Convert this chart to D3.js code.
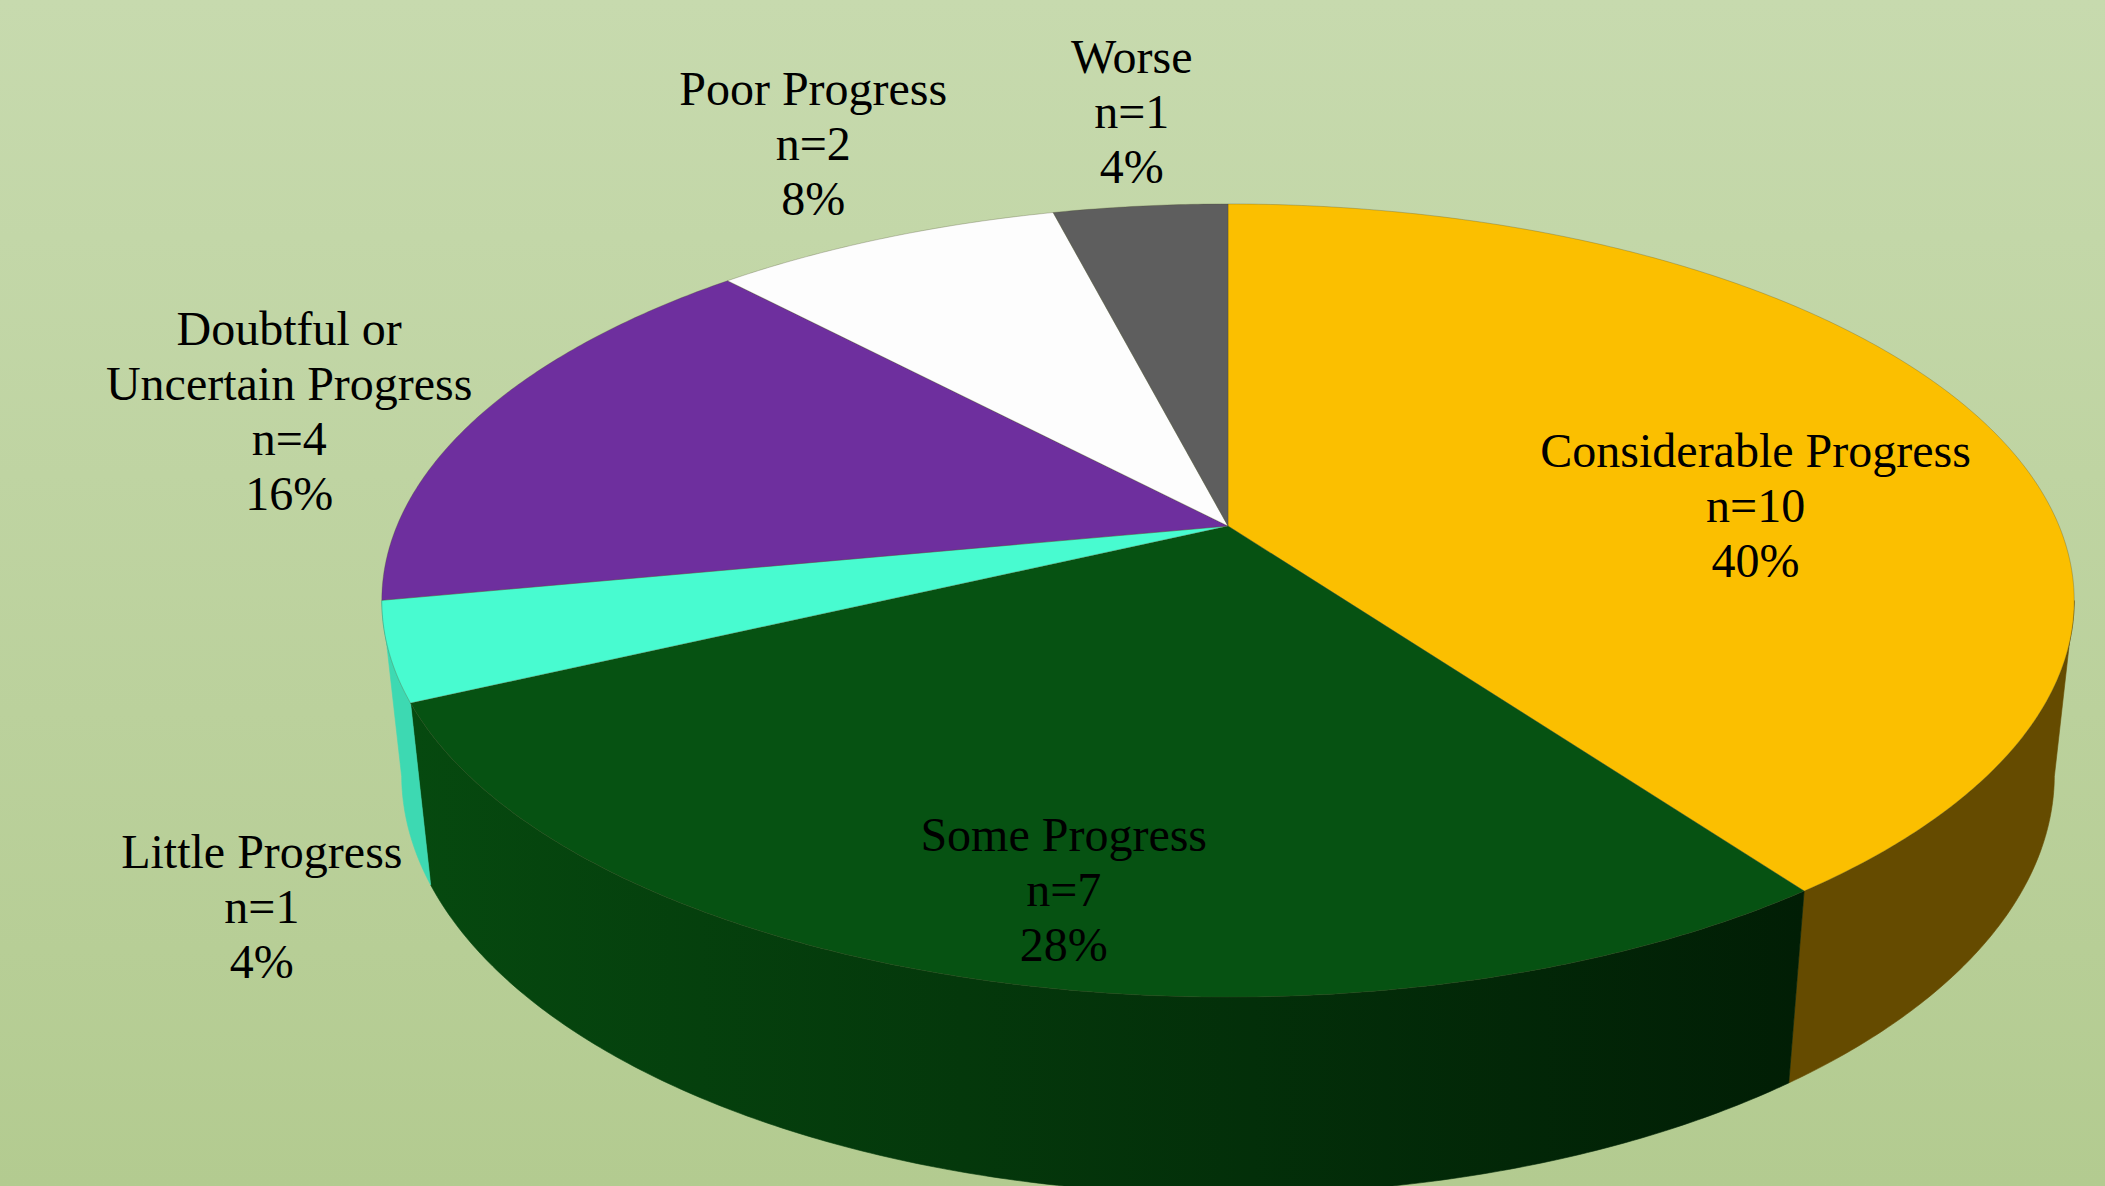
<!DOCTYPE html>
<html>
<head>
<meta charset="utf-8">
<script src="https://cdn.jsdelivr.net/npm/d3@7"></script>
<style>
  html, body { margin: 0; padding: 0; overflow: hidden; }
  svg { display: block; }
</style>
</head>
<body>
<div id="chart"></div>
<script>
// DATA
const categories = ["Considerable Progress", "Some Progress", "Little Progress",
                    "Doubtful or\nUncertain Progress", "Poor Progress", "Worse"]
const counts = [10, 7, 1, 4, 2, 1]
const topColors = ["#FBBF00", "#065212", "#48FBD0", "#6E2F9E", "#FDFDFD", "#5E5E5E"]
const sideColors = [["#654B00", "#654B00"], ["#06490F", "#011E05"], ["#3DD9B2", "#3DD9B2"],
                    ["#4E2170", "#4E2170"], ["#CFCFCF", "#CFCFCF"], ["#444444", "#444444"]]

const width = 2105, height = 1186
const total = d3.sum(counts)

// 3D VIEW (perspective camera looking down on the pie)
const view = { cx: 1228, cy: 526, f: 3926, dist: 1, R: 0.2117, depth: 0.0504,
               sinP: 0.4603, cosP: 0.8878 }

// theta clockwise from the far (top) point, k = radius fraction, h = height (negative = down)
function project(theta, k, h) {
    const u = k * view.R * Math.sin(theta)
    const v = k * view.R * Math.cos(theta)
    const z = v * view.cosP + view.dist - h * view.sinP
    const y = v * view.sinP + h * view.cosP
    return [view.cx + view.f * u / z, view.cy - view.f * y / z]
}

function arcPoints(a0, a1, k, h) {
    const n = Math.max(2, Math.ceil(Math.abs(a1 - a0) / (Math.PI / 360)))
    return d3.range(n + 1).map(i => project(a0 + (a1 - a0) * i / n, k, h))
}

const pie = d3.pie().sort(null).value(d => d.count)
const data = categories.map((c, i) => ({ name: c, count: counts[i], i: i }))
const arcs = pie(data)

const line = d3.line().curve(d3.curveLinear)

const svg = d3.select("#chart").append("svg")
    .attr("width", width)
    .attr("height", height)

const defs = svg.append("defs")
const bg = defs.append("linearGradient").attr("id", "bg")
    .attr("x1", 0).attr("y1", 0).attr("x2", 0).attr("y2", 1)
bg.append("stop").attr("offset", 0).attr("stop-color", "#C7DAAE")
bg.append("stop").attr("offset", 1).attr("stop-color", "#B3CB90")

svg.append("rect")
    .attr("width", width).attr("height", height)
    .attr("fill", "url(#bg)")

// DRAW SIDES (only the front part of the cylinder is visible)
const a = view.R * view.cosP / view.dist
const visMin = Math.acos(-a), visMax = 2 * Math.PI - Math.acos(-a)

const sides = svg.append("g")
arcs.forEach(d => {
    const s0 = Math.max(d.startAngle, visMin), s1 = Math.min(d.endAngle, visMax)
    if (s1 <= s0) return
    const pts = arcPoints(s0, s1, 1, 0).concat(arcPoints(s1, s0, 1, -view.depth))
    const xs = d3.extent(pts, p => p[0])
    const g = defs.append("linearGradient").attr("id", "side" + d.index)
        .attr("gradientUnits", "userSpaceOnUse")
        .attr("x1", xs[0]).attr("x2", xs[1]).attr("y1", 0).attr("y2", 0)
    g.append("stop").attr("offset", 0).attr("stop-color", sideColors[d.index][0])
    g.append("stop").attr("offset", 1).attr("stop-color", sideColors[d.index][1])
    sides.append("path")
        .attr("d", line(pts) + "Z")
        .attr("fill", `url(#side${d.index})`)
        .attr("stroke", `url(#side${d.index})`)
        .attr("stroke-width", 0.6)
})

// DRAW TOP FACES
svg.append("g")
    .selectAll("path")
    .data(arcs)
    .join("path")
    .attr("d", d => line([project(0, 0, 0)].concat(arcPoints(d.startAngle, d.endAngle, 1, 0))) + "Z")
    .attr("fill", d => topColors[d.index])
    .attr("stroke", "rgba(70,70,40,0.35)")
    .attr("stroke-width", 0.8)
    .attr("stroke-linejoin", "round")

// LABELS
const fontSize = 48, lineH = 55, capH = 32
const labels = svg.append("g")
    .attr("font-family", "'Liberation Serif', 'Times New Roman', serif")
    .attr("font-size", fontSize)
    .attr("fill", "#000")
    .attr("text-anchor", "middle")

arcs.forEach(d => {
    const lines = d.data.name.split("\n")
        .concat(["n=" + d.data.count, Math.round(d.data.count / total * 100) + "%"])
    const t = labels.append("text")
    lines.forEach((l, j) => t.append("tspan").attr("x", 0).attr("y", j * lineH).text(l))
    const bw = t.node().getBBox().width
    const halfW = bw / 2, halfH = (lineH * (lines.length - 1) + capH) / 2

    const mid = (d.startAngle + d.endAngle) / 2
    let c
    if (d.data.count / total >= 0.2) {
        // inside label
        c = project(mid, 0.7, -view.depth * 0.35)
    } else {
        const dx = Math.sin(mid), dy = -Math.cos(mid)
        if (dy > 0) {
            // front: hang below the pie body
            const p = project(mid, 1, -view.depth)
            c = [p[0] + dx * halfW * 1.1, p[1] + halfH * 1.08]
        } else {
            const p = project(mid, 1, 0)
            const wy = Math.max(0, Math.min(1, (Math.abs(dy) - 0.3) / 0.4))
            c = [p[0] + dx * halfW * 1.1, p[1] - wy * halfH * 1.33]
        }
    }
    const b1 = c[1] - (lineH * (lines.length - 1) - capH) / 2
    t.attr("transform", `translate(${c[0]}, ${b1})`)
})
</script>
</body>
</html>
